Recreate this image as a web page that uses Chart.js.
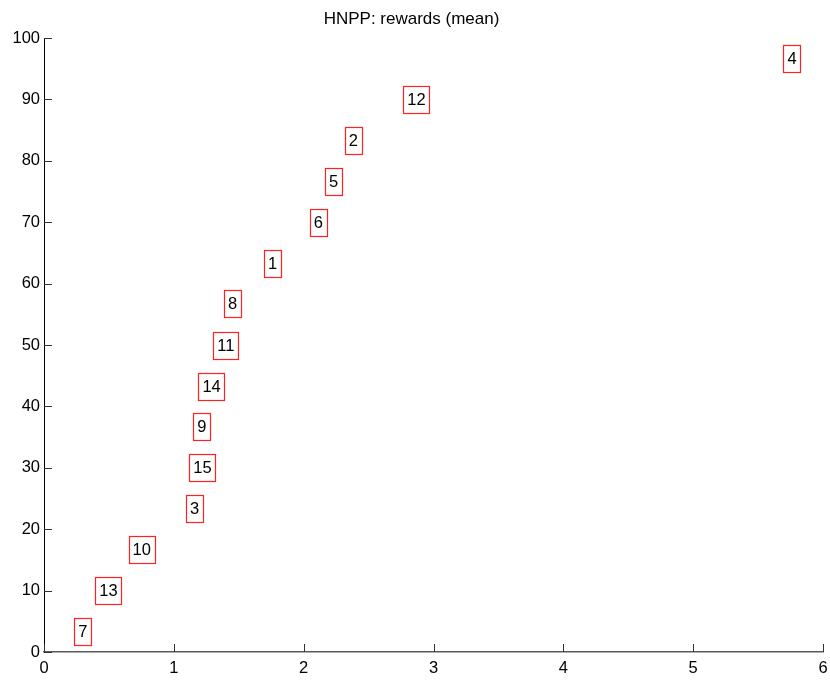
<!DOCTYPE html>
<html>
<head>
<meta charset="utf-8">
<title>HNPP: rewards (mean)</title>
<script src="https://cdn.jsdelivr.net/npm/chart.js@4/dist/chart.umd.min.js"></script>
<style>
  html, body { margin: 0; padding: 0; background: #ffffff; }
  #wrap { width: 830px; height: 680px; }
</style>
</head>
<body>
<div id="wrap"><canvas id="c" width="830" height="680"></canvas></div>
<script>
// Item ids and their mean reward (x) against percentile rank (y)
const itemIds = ['1', '2', '3', '4', '5', '6', '7', '8', '9', '10', '11', '12', '13', '14', '15'];
const meanReward = [1.761, 2.383, 1.160, 5.761, 2.230, 2.113, 0.299, 1.452, 1.215, 0.753, 1.401, 2.869, 0.497, 1.291, 1.220];
const rankPercent = [63.3, 83.3, 23.3, 96.7, 76.7, 70.0, 3.3, 56.7, 36.7, 16.7, 50.0, 90.0, 10.0, 43.3, 30.0];
const xTicks = [0, 1, 2, 3, 4, 5, 6];
const yTicks = [0, 10, 20, 30, 40, 50, 60, 70, 80, 90, 100];

const FONT = '"Liberation Sans", Arial, Helvetica, sans-serif';

const points = itemIds.map((id, i) => ({ x: meanReward[i], y: rankPercent[i], id }));

// Inward tick marks on the left and bottom axes
const inwardTicks = {
  id: 'inwardTicks',
  afterDraw(chart) {
    const { ctx, chartArea, scales } = chart;
    const len = 8;
    ctx.save();
    ctx.lineWidth = 1;
    ctx.strokeStyle = '#333333';
    yTicks.forEach(v => {
      const y = Math.round(scales.y.getPixelForValue(v)) + 0.5;
      ctx.beginPath();
      ctx.moveTo(chartArea.left, y);
      ctx.lineTo(chartArea.left + len, y);
      ctx.stroke();
    });
    xTicks.forEach(v => {
      const x = Math.round(scales.x.getPixelForValue(v)) + 0.5;
      ctx.beginPath();
      ctx.moveTo(x, chartArea.bottom);
      ctx.lineTo(x, chartArea.bottom - len);
      ctx.stroke();
    });
    ctx.restore();
  }
};

// Boxed id labels placed at each item's data position
const boxedLabels = {
  id: 'boxedLabels',
  afterDatasetsDraw(chart) {
    const { ctx } = chart;
    const meta = chart.getDatasetMeta(0);
    ctx.save();
    ctx.font = '16.5px ' + FONT;
    ctx.textAlign = 'center';
    ctx.textBaseline = 'middle';
    meta.data.forEach((el, i) => {
      const p = chart.data.datasets[0].data[i];
      const cx = el.x, cy = el.y;
      const w = ctx.measureText(p.id).width + 8;
      const h = 27;
      const left = Math.round(cx - w / 2) + 0.5;
      const top = Math.round(cy - h / 2) + 0.5;
      ctx.fillStyle = '#ffffff';
      ctx.fillRect(left, top, Math.round(w), h);
      ctx.strokeStyle = '#ff2020';
      ctx.lineWidth = 1.2;
      ctx.strokeRect(left, top, Math.round(w), h);
      ctx.fillStyle = '#000000';
      ctx.fillText(p.id, cx, cy + 1);
    });
    ctx.restore();
  }
};

new Chart(document.getElementById('c'), {
  type: 'scatter',
  data: {
    datasets: [{
      label: 'items',
      data: points,
      pointRadius: 0,
      pointHoverRadius: 0,
      showLine: false
    }]
  },
  options: {
    responsive: false,
    animation: false,
    events: [],
    layout: { padding: { left: 0, right: 7, top: 0, bottom: 0 } },
    plugins: {
      legend: { display: false },
      tooltip: { enabled: false },
      title: {
        display: true,
        text: 'HNPP: rewards (mean)',
        color: '#000000',
        font: { family: FONT, size: 17, weight: 'normal', lineHeight: 1.2 },
        padding: { top: 9, bottom: 8.6 }
      }
    },
    scales: {
      x: {
        type: 'linear',
        min: 0,
        max: 6,
        afterFit(scale) {
          scale.height = 28;
          scale.paddingLeft = 0;
          scale.paddingRight = 0;
        },
        afterBuildTicks(scale) { scale.ticks = xTicks.map(v => ({ value: v })); },
        grid: { display: false, drawTicks: false },
        border: { display: true, color: '#5a5a5a', width: 1.6 },
        ticks: {
          color: '#000000',
          font: { family: FONT, size: 16.5 },
          padding: 7,
          maxRotation: 0,
          autoSkip: false
        }
      },
      y: {
        type: 'linear',
        min: 0,
        max: 100,
        afterFit(scale) {
          scale.width = 44;
          scale.paddingTop = 0;
          scale.paddingBottom = 0;
        },
        afterBuildTicks(scale) { scale.ticks = yTicks.map(v => ({ value: v })); },
        grid: { display: false, drawTicks: false },
        border: { display: true, color: '#000000', width: 1 },
        ticks: {
          color: '#000000',
          font: { family: FONT, size: 16.5 },
          padding: 4,
          autoSkip: false
        }
      }
    }
  },
  plugins: [inwardTicks, boxedLabels]
});
</script>
</body>
</html>
